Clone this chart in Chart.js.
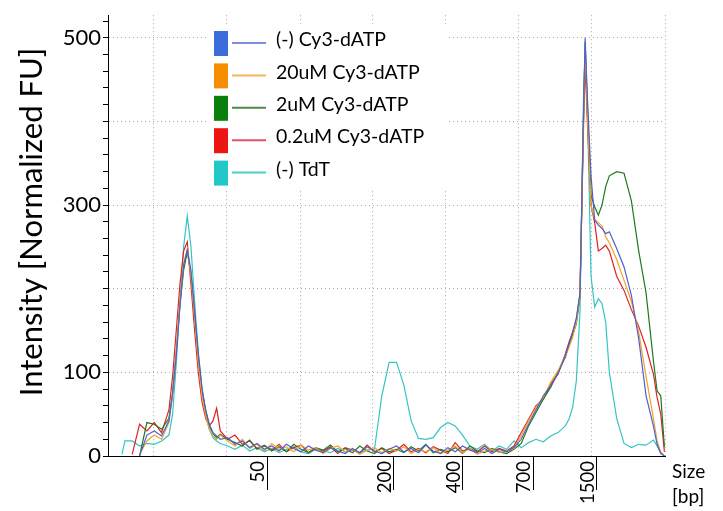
<!DOCTYPE html>
<html>
<head>
<meta charset="utf-8">
<script src="https://cdn.jsdelivr.net/npm/chart.js@4.4.1/dist/chart.umd.min.js"></script>
<style>
  html, body { margin: 0; padding: 0; background: #fff; }
</style>
</head>
<body>
<canvas id="trace" width="723" height="511"></canvas>
<script>
// --- Data ---
// migration time of every sample point, shared by all five traces
const times = [
  17, 17.5, 17.8, 18, 18.5, 19, 19.5, 20, 20.5, 21,
  21.25, 21.5, 21.75, 22, 22.25, 22.5, 22.75, 23, 23.25, 23.5,
  23.75, 24, 24.25, 24.5, 25, 25.5, 26, 26.5, 27, 27.5,
  28, 28.5, 29, 29.5, 30, 30.5, 31, 31.5, 32, 32.5,
  33, 33.5, 34, 34.5, 35, 35.5, 36, 36.5, 37, 37.5,
  38, 38.5, 39, 39.5, 40, 40.5, 41, 41.5, 42, 42.5,
  43, 43.5, 44, 44.5, 45, 45.5, 46, 46.5, 47, 47.5,
  48, 48.25, 48.5, 48.75, 49, 49.25, 49.35, 49.5, 49.75, 50,
  50.25, 50.5, 50.75, 51, 51.5, 52, 52.5, 53, 53.5, 54,
  54.25, 54.5, 54.75
];

const seriesNames = ["(-) Cy3-dATP", "20uM Cy3-dATP", "2uM Cy3-dATP", "0.2uM Cy3-dATP", "(-) TdT"];

const noDye = [
  null, null, null, null, null, 0, 25, 30, 24, 42,
  75, 120, 180, 228, 246, 222, 172, 122, 82, 55,
  38, 28, 24, 20, 22, 14, 18, 10, 15, 8,
  12, 6, 14, 9, 5, 12, 7, 4, 10, 6,
  3, 9, 4, 11, 6, 3, 8, 12, 5, 9,
  4, 13, 6, 3, 10, 5, 12, 7, 4, 9,
  3, 8, 5, 10, 20, 38, 55, 72, 84, 98,
  120, 134, 148, 165, 195, 420, 500, 430, 335, 282,
  276, 272, 266, 268, 248, 226, 192, 140, 72, 36,
  14, 3, 0
];
const dye20uM = [
  null, null, null, null, null, 2, 18, 25, 20, 40,
  72, 125, 185, 230, 248, 215, 165, 112, 72, 48,
  32, 24, 20, 25, 18, 12, 20, 9, 14, 6,
  15, 8, 11, 5, 13, 7, 10, 3, 9, 12,
  5, 8, 2, 7, 10, 4, 9, 6, 11, 3,
  8, 5, 10, 3, 7, 12, 4, 9, 2, 6,
  8, 4, 6, 9, 24, 42, 58, 70, 88, 102,
  120, 130, 142, 160, 192, 410, 490, 410, 300, 283,
  279, 275, 262, 255, 235, 210, 185, 148, 95, 45,
  18, 5, 0
];
const dye2uM = [
  null, null, null, null, null, 0, 40, 38, 32, 45,
  75, 125, 180, 222, 244, 218, 170, 118, 78, 55,
  36, 27, 22, 26, 20, 16, 12, 19, 8, 13,
  6, 11, 5, 14, 8, 4, 10, 7, 13, 5,
  9, 4, 12, 6, 3, 10, 5, 8, 4, 11,
  6, 14, 4, 8, 5, 10, 3, 12, 6, 4,
  9, 5, 3, 8, 15, 36, 52, 68, 82, 100,
  118, 132, 145, 158, 190, 415, 495, 420, 312, 298,
  288, 300, 322, 335, 340, 338, 305, 245, 195, 114,
  78, 72, 11
];
const dye02uM = [
  null, null, null, null, 2, 38, 30, 40, 28, 55,
  95, 150, 205, 245, 256, 205, 150, 100, 65, 45,
  36, 42, 57, 30, 20, 25, 14, 18, 9, 12,
  7, 14, 5, 10, 13, 4, 9, 6, 11, 3,
  10, 7, 4, 13, 5, 9, 3, 7, 14, 5,
  9, 4, 11, 7, 3, 16, 6, 9, 5, 12,
  5, 9, 6, 12, 28, 44, 60, 68, 86, 98,
  122, 136, 148, 162, 194, 400, 470, 400, 300, 279,
  245, 248, 252, 245, 215, 198, 175, 155, 130, 98,
  70, 50, 5
];
const noTdT = [
  null, null, 2, 18, 18, 12, 15, 14, 18, 25,
  50, 110, 185, 250, 287, 250, 185, 125, 80, 50,
  32, 22, 18, 15, 12, 8, 13, 6, 10, 5,
  9, 4, 8, 11, 5, 3, 8, 6, 4, 9,
  5, 8, 4, 7, 8, 72, 112, 112, 85, 42,
  21, 20, 22, 34, 40, 36, 25, 12, 8, 14,
  6, 12, 8, 18, 10, 16, 20, 17, 24, 28,
  36, 44, 58, 90, 173, 440, 480, 420, 215, 178,
  188, 182, 160, 100, 45, 15, 10, 14, 13, 19,
  12, 4, 0
];

// size ladder ticks (bp) and where they sit on the time axis
const bpLabels = ["50", "200", "400", "700", "1500"];
const bpTimes = [27.70, 36.33, 41.03, 45.82, 50.14];
// dotted vertical grid positions
const gridTimes = [19.92, 24.91, 29.93, 34.87, 39.87, 44.83, 49.80, 54.79];
const yLabelled = [0, 100, 300, 500];

const lineColors = ["#4f5fcf", "#f2a22a", "#1f7a1f", "#dc2424", "#35c4c4"];
const swatchColors = ["#3a6cdc", "#f58e00", "#0b7f0b", "#ee1515", "#22c8c8"];
const swatchLines = ["#7d8ee0", "#f6b65c", "#4d8a4d", "#e2506a", "#4ccfc6"];

const yTitle = "Intensity [Normalized FU]";

// --- Chart ---
Chart.defaults.font.family = "Lato, 'Open Sans', sans-serif";
Chart.defaults.color = "#000";

const traces = [noDye, dye20uM, dye2uM, dye02uM, noTdT];

const overlay = {
  id: "overlay",
  afterDraw(chart) {
    const ctx = chart.ctx;
    const area = chart.chartArea;

    // y title
    ctx.save();
    ctx.translate(32, 222);
    ctx.rotate(-Math.PI / 2);
    ctx.font = "31px Lato";
    ctx.fillStyle = "#000";
    ctx.textAlign = "center";
    ctx.textBaseline = "middle";
    ctx.fillText(yTitle, 0, 0);
    ctx.restore();

    // axis unit
    ctx.save();
    ctx.font = "19px Lato";
    ctx.fillStyle = "#000";
    ctx.textBaseline = "middle";
    ctx.fillText("Size", area.right + 7, 472);
    ctx.fillText("[bp]", area.right + 7, 497);
    ctx.restore();

    // legend
    ctx.save();
    ctx.fillStyle = "#fff";
    ctx.fillRect(207, 26, 240, 164);
    ctx.font = "19.5px Lato";
    ctx.textBaseline = "middle";
    seriesNames.forEach((name, i) => {
      const cy = 43 + i * 32.4;
      ctx.fillStyle = swatchColors[i];
      ctx.fillRect(214, cy - 12, 14, 25);
      ctx.strokeStyle = swatchLines[i];
      ctx.lineWidth = 2;
      ctx.beginPath();
      ctx.moveTo(232, cy);
      ctx.lineTo(266, cy);
      ctx.stroke();
      ctx.fillStyle = "#000";
      ctx.fillText(name, 276, cy - 3);
    });
    ctx.restore();
  }
};

new Chart(document.getElementById("trace"), {
  type: "line",
  data: {
    datasets: traces.map((trace, i) => ({
      label: seriesNames[i],
      data: times.map((t, k) => ({ x: t, y: trace[k] })),
      borderColor: lineColors[i],
      borderWidth: 1.2,
      pointRadius: 0,
      tension: 0,
      fill: false,
      spanGaps: false
    }))
  },
  options: {
    responsive: false,
    devicePixelRatio: 1,
    animation: false,
    layout: { padding: { top: 10, right: 58, bottom: 0, left: 0 } },
    plugins: { legend: { display: false }, tooltip: { enabled: false } },
    scales: {
      x: {
        type: "linear",
        min: 16.85,
        max: 54.79,
        afterBuildTicks: (axis) => { axis.ticks = gridTimes.map(v => ({ value: v })); },
        afterFit: (axis) => { axis.height = 0; },
        ticks: { display: false },
        grid: { color: "#a8a8a8", lineWidth: 1, drawTicks: false },
        border: { display: true, color: "#000", width: 1, dash: [1, 3] }
      },
      xbp: {
        type: "linear",
        position: "bottom",
        min: 16.85,
        max: 54.79,
        afterBuildTicks: (axis) => { axis.ticks = bpTimes.map(v => ({ value: v })); },
        afterFit: (axis) => { axis.height = 55; },
        ticks: {
          autoSkip: false,
          minRotation: 90,
          maxRotation: 90,
          padding: -29,
          labelOffset: -9,
          font: { size: 18.5 },
          callback: (value, index) => bpLabels[index]
        },
        grid: {
          drawOnChartArea: false,
          drawTicks: true,
          tickLength: 34,
          tickColor: "#000",
          tickWidth: 1,
          tickBorderDash: []
        },
        border: { display: false }
      },
      y: {
        type: "linear",
        min: 0,
        max: 527,
        afterBuildTicks: (axis) => {
          const ticks = [];
          for (let v = 0; v <= 520; v += 20) ticks.push({ value: v });
          axis.ticks = ticks;
        },
        afterFit: (axis) => { axis.width = 108; },
        ticks: {
          autoSkip: false,
          padding: 2,
          font: { size: 22 },
          callback: (value) => (yLabelled.includes(value) ? String(value) : "")
        },
        grid: {
          color: (c) => (c.tick && c.tick.value > 0 && c.tick.value % 100 === 0 ? "#a8a8a8" : "rgba(0,0,0,0)"),
          tickColor: "#000",
          tickLength: 5,
          tickBorderDash: []
        },
        border: { display: true, color: "#000", width: 1, dash: [1, 3] }
      }
    }
  },
  plugins: [overlay]
});
</script>
</body>
</html>
